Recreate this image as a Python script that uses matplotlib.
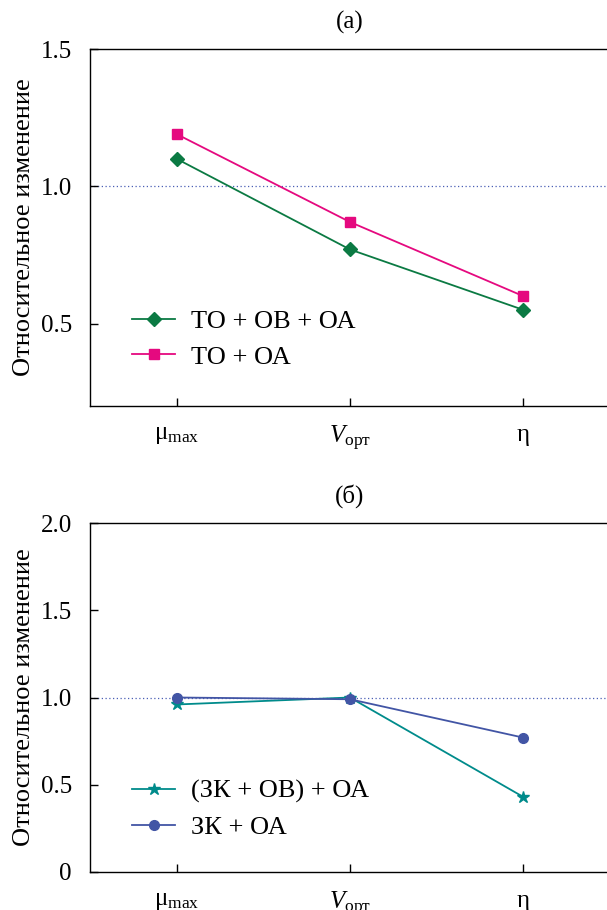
import matplotlib
matplotlib.use("Agg")
import matplotlib.pyplot as plt

plt.rcParams['font.family'] = ['Liberation Serif', 'DejaVu Serif']
plt.rcParams['mathtext.fontset'] = 'custom'
plt.rcParams['mathtext.rm'] = 'Liberation Serif'
plt.rcParams['mathtext.it'] = 'Liberation Serif:italic'

# categories
categories = [r'μ$_{\rm max}$', r'$V_{\rm орт}$', 'η']

# panel (a)
a_to_ob_oa = [1.10, 0.77, 0.55]
a_to_oa = [1.19, 0.87, 0.60]

# panel (б)
b_zk_ob_oa = [0.96, 1.00, 0.43]
b_zk_oa = [1.00, 0.99, 0.77]

fig = plt.figure(figsize=(6.07, 9.10), dpi=100)
ax1 = fig.add_axes([90/607, 1 - 406/910, 520/607, (406-49)/910])
ax2 = fig.add_axes([90/607, 1 - 872/910, 520/607, (872-523)/910])

x = range(len(categories))

ax1.plot(x, a_to_ob_oa, color='#0b7a43', marker='D', markersize=7, lw=1.3,
         label='ТО + ОВ + ОА')
ax1.plot(x, a_to_oa, color='#e5097f', marker='s', markersize=7, lw=1.3,
         label='ТО + ОА')
ax1.set_ylim(0.2, 1.5)
ax1.set_yticks([0.5, 1.0, 1.5])
ax1.set_title('(а)', fontsize=18, pad=15)

ax2.plot(x, b_zk_ob_oa, color='#008b8b', marker='*', markersize=9, lw=1.3,
         label='(ЗК + ОВ) + ОА')
ax2.plot(x, b_zk_oa, color='#4255a5', marker='o', markersize=7, lw=1.3,
         label='ЗК + ОА')
ax2.set_ylim(0, 2.0)
ax2.set_yticks([0, 0.5, 1.0, 1.5, 2.0])
ax2.set_yticklabels(['0', '0.5', '1.0', '1.5', '2.0'])
ax2.set_title('(б)', fontsize=18, pad=15)

legend_y = {ax1: 0.075, ax2: 0.065}
for ax in (ax1, ax2):
    ax.axhline(1.0, color='#4a5fb5', lw=0.9, ls=(0, (1, 2)), zorder=0)
    ax.set_xlim(-0.5, 2.5)
    ax.set_xticks(list(x))
    ax.set_xticklabels(categories)
    ax.tick_params(direction='in', labelsize=18, length=6, width=1)
    ax.tick_params(axis='x', pad=13)
    ax.tick_params(axis='y', pad=13)
    ax.spines['right'].set_visible(False)
    for s in ('left', 'bottom', 'top'):
        ax.spines[s].set_linewidth(1.0)
    ax.set_ylabel('Относительное изменение', fontsize=19, labelpad=4)
    ax.legend(loc='lower left', bbox_to_anchor=(0.06, legend_y[ax]), frameon=False,
              fontsize=19, handlelength=1.65, handletextpad=0.6,
              labelspacing=0.45, borderaxespad=0)

fig.savefig('out.png', dpi=100)
